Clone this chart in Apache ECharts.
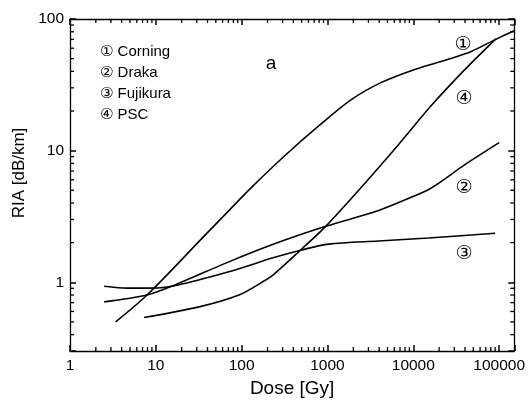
<!DOCTYPE html>
<html>
<head>
<meta charset="utf-8">
<script src="https://cdn.jsdelivr.net/npm/echarts@6/dist/echarts.min.js"></script>
<style>html,body{margin:0;padding:0;background:#fff}#c{width:528px;height:403px}</style>
</head>
<body>
<div id="c"></div>
<script>
// ---- data ----
const seriesNames = ['\u2460 Corning', '\u2461 Draka', '\u2462 Fujikura', '\u2463 PSC'];

const corningDose = [3.4, 7.9, 36.5, 71, 132, 327, 790, 1910, 4260, 10600, 25600, 47300, 90000, 149000];
const corningRIA  = [0.50, 0.80, 2.24, 3.5, 5.3, 9.3, 15.4, 24.5, 33.0, 41.6, 49.4, 56.7, 69.7, 81.4];

const drakaDose = [2.5, 7.9, 16.4, 67.5, 237, 953, 3935, 9750, 16200, 40300, 100000];
const drakaRIA  = [0.71, 0.80, 0.95, 1.41, 1.95, 2.66, 3.51, 4.46, 5.2, 7.86, 11.5];

const fujikuraDose = [2.5, 4.65, 8.85, 17.7, 67.5, 237, 501, 1033, 3935, 15000, 90000];
const fujikuraRIA  = [0.933, 0.902, 0.902, 0.95, 1.19, 1.54, 1.76, 1.95, 2.06, 2.17, 2.36];

const pscDose = [7.3, 31.9, 93, 172, 237, 501, 953, 2495, 6710, 16200, 40300, 92300];
const pscRIA  = [0.54, 0.65, 0.80, 1.0, 1.15, 1.79, 2.66, 5.3, 11.1, 22.0, 41.6, 71];

const xTickLabels = ['1', '10', '100', '1000', '10000', '100000'];
const yTickLabels = ['1', '10', '100'];
const xMinorTicks = [2,3,4,5,6,7,8,9, 20,30,40,50,60,70,80,90, 200,300,400,500,600,700,800,900,
  2000,3000,4000,5000,6000,7000,8000,9000, 20000,30000,40000,50000,60000,70000,80000,90000];
const yMinorTicks = [0.4,0.5,0.6,0.7,0.8,0.9, 2,3,4,5,6,7,8,9, 20,30,40,50,60,70,80,90];

const xMin = 1, xMax = 150000, yMin = 0.3, yMax = 100;

// ---- chart ----
const FONT = '"Liberation Sans", Arial, "DejaVu Sans", sans-serif';
const zip = (a, b) => a.map((v, i) => [v, b[i]]);
const decadeLabel = (labels) => (v) => {
  const l = Math.log10(v);
  if (Math.abs(l - Math.round(l)) < 1e-6) {
    const s = String(Math.round(v));
    return labels.indexOf(s) >= 0 ? s : '';
  }
  return '';
};

const mkLine = (name, dose, ria) => ({
  name, type: 'line', data: zip(dose, ria), smooth: 0.3, showSymbol: false, symbol: 'none',
  lineStyle: { color: '#000', width: 1.6 }, itemStyle: { color: '#000' }, xAxisIndex: 0, yAxisIndex: 0, z: 3
});
const mkAxisLine = () => ({ show: true, lineStyle: { color: '#000', width: 1.3 } });
const mkTick = () => ({ show: true, inside: true, length: 6, lineStyle: { color: '#000', width: 1.5 } });
const MINOR_LEN = 4, MINOR_W = 1.3;

const chart = echarts.init(document.getElementById('c'));

chart.setOption({
  animation: false,
  backgroundColor: '#fff',
  grid: { left: 70, right: 12, top: 19, bottom: 46 },
  legend: {
    data: seriesNames, orient: 'vertical', left: 95, top: 44,
    icon: 'none', itemWidth: 0, itemHeight: 0, itemGap: 5, padding: 0,
    textStyle: { fontSize: 15, fontFamily: FONT, color: '#000', lineHeight: 16 },
    selectedMode: false
  },
  xAxis: [
    { type: 'log', min: xMin, max: xMax, position: 'bottom',
      axisLine: mkAxisLine(), axisTick: mkTick(), splitLine: { show: false },
      axisLabel: { show: true, margin: 7, fontSize: 15.5, fontFamily: FONT, color: '#000',
        formatter: decadeLabel(xTickLabels) },
      name: 'Dose [Gy]', nameLocation: 'middle', nameGap: 26,
      nameTextStyle: { fontSize: 19, fontFamily: FONT, color: '#000' } },
    { type: 'log', min: xMin, max: xMax, position: 'top',
      axisLine: mkAxisLine(), axisTick: mkTick(), splitLine: { show: false }, axisLabel: { show: false } }
  ],
  yAxis: [
    { type: 'log', min: yMin, max: yMax, position: 'left',
      axisLine: mkAxisLine(), axisTick: mkTick(), splitLine: { show: false },
      axisLabel: { show: true, margin: 6, fontSize: 15.5, fontFamily: FONT, color: '#000',
        formatter: decadeLabel(yTickLabels) } },
    { type: 'log', min: yMin, max: yMax, position: 'right',
      axisLine: mkAxisLine(), axisTick: mkTick(), splitLine: { show: false }, axisLabel: { show: false } }
  ],
  series: [
    mkLine(seriesNames[0], corningDose, corningRIA),
    mkLine(seriesNames[1], drakaDose, drakaRIA),
    mkLine(seriesNames[2], fujikuraDose, fujikuraRIA),
    mkLine(seriesNames[3], pscDose, pscRIA),
    { type: 'custom', name: 'xMinorBottom', silent: true, z: 4,
      data: xMinorTicks.map(v => [v, yMin]),
      renderItem: (params, api) => {
        const b = api.coord([api.value(0), yMin]);
        return { type: 'line', shape: { x1: b[0], y1: b[1], x2: b[0], y2: b[1] - MINOR_LEN }, style: { stroke: '#000', lineWidth: MINOR_W } };
      } },
    { type: 'custom', name: 'xMinorTop', silent: true, z: 4,
      data: xMinorTicks.map(v => [v, yMax]),
      renderItem: (params, api) => {
        const t = api.coord([api.value(0), yMax]);
        return { type: 'line', shape: { x1: t[0], y1: t[1], x2: t[0], y2: t[1] + MINOR_LEN }, style: { stroke: '#000', lineWidth: MINOR_W } };
      } },
    { type: 'custom', name: 'yMinorLeft', silent: true, z: 4,
      data: yMinorTicks.map(v => [xMin, v]),
      renderItem: (params, api) => {
        const l = api.coord([xMin, api.value(1)]);
        return { type: 'line', shape: { x1: l[0], y1: l[1], x2: l[0] + MINOR_LEN, y2: l[1] }, style: { stroke: '#000', lineWidth: MINOR_W } };
      } },
    { type: 'custom', name: 'yMinorRight', silent: true, z: 4,
      data: yMinorTicks.map(v => [xMax, v]),
      renderItem: (params, api) => {
        const r = api.coord([xMax, api.value(1)]);
        return { type: 'line', shape: { x1: r[0], y1: r[1], x2: r[0] - MINOR_LEN, y2: r[1] }, style: { stroke: '#000', lineWidth: MINOR_W } };
      } }
  ],
  graphic: [
    { type: 'text', x: 19.5, y: 173, rotation: Math.PI / 2,
      style: { text: 'RIA [dB/km]', font: '17px ' + FONT, fill: '#000', align: 'center', verticalAlign: 'middle' } },
    { type: 'text', x: 271, y: 64,
      style: { text: 'a', font: '19px ' + FONT, fill: '#000', align: 'center', verticalAlign: 'middle' } },
    { type: 'text', x: 463, y: 45,
      style: { text: '\u2460', font: '19px "DejaVu Sans", sans-serif', fill: '#000', align: 'center', verticalAlign: 'middle' } },
    { type: 'text', x: 464, y: 99,
      style: { text: '\u2463', font: '19px "DejaVu Sans", sans-serif', fill: '#000', align: 'center', verticalAlign: 'middle' } },
    { type: 'text', x: 464, y: 188,
      style: { text: '\u2461', font: '19px "DejaVu Sans", sans-serif', fill: '#000', align: 'center', verticalAlign: 'middle' } },
    { type: 'text', x: 464, y: 254,
      style: { text: '\u2462', font: '19px "DejaVu Sans", sans-serif', fill: '#000', align: 'center', verticalAlign: 'middle' } }
  ]
});
</script>
</body>
</html>
